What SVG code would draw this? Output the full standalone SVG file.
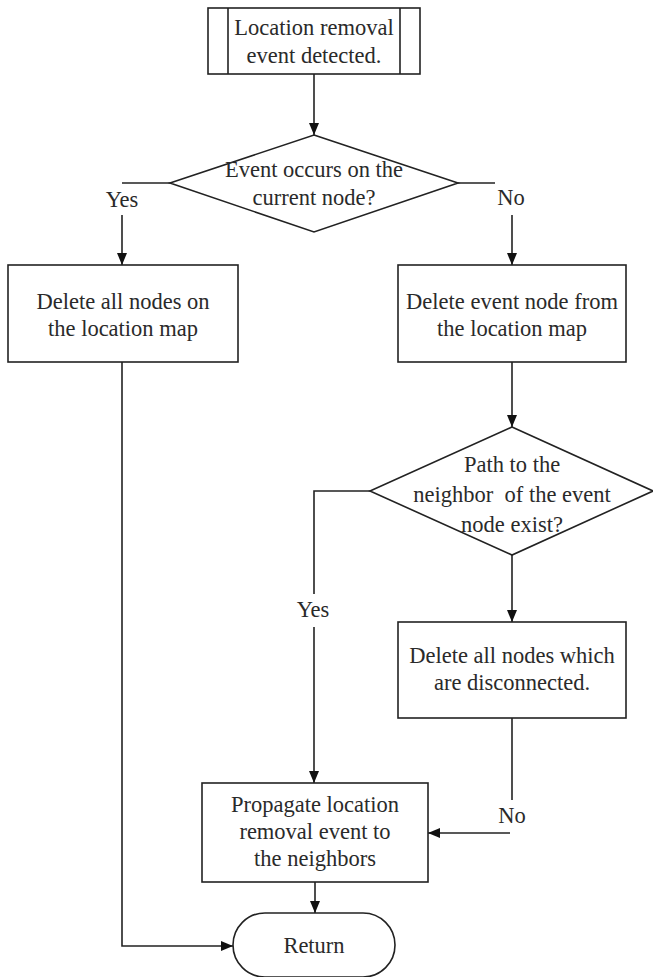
<svg xmlns="http://www.w3.org/2000/svg" width="653" height="977" viewBox="0 0 653 977">
<style>
.s{fill:#fff;stroke:#222;stroke-width:1.6}
.t{font-family:"Liberation Serif","Times New Roman",serif;font-size:22.5px;fill:#2a2a2a;text-anchor:middle}
.c{fill:none;stroke:#222;stroke-width:1.6}
</style>
<defs>
<marker id="ah" markerWidth="12" markerHeight="10" refX="12" refY="5" orient="auto" markerUnits="userSpaceOnUse">
<path d="M0,0 L12,5 L0,10 Z" fill="#111"/>
</marker>
</defs>
<rect width="653" height="977" fill="#fff"/>
<g id="connectors">
<path class="c" d="M314,74 V135" marker-end="url(#ah)"/>
<path class="c" d="M170,183 H122"/>
<path class="c" d="M122,215 V265" marker-end="url(#ah)"/>
<path class="c" d="M458,183 H495"/>
<path class="c" d="M512,215 V265" marker-end="url(#ah)"/>
<path class="c" d="M512,362 V427" marker-end="url(#ah)"/>
<path class="c" d="M370,491 H314 V594"/>
<path class="c" d="M314,627 V783" marker-end="url(#ah)"/>
<path class="c" d="M512,555 V622" marker-end="url(#ah)"/>
<path class="c" d="M512,718 V800"/>
<path class="c" d="M510,833 H428" marker-end="url(#ah)"/>
<path class="c" d="M315,882 V913" marker-end="url(#ah)"/>
<path class="c" d="M122,362 V946 H233" marker-end="url(#ah)"/>
</g>
<g id="start">
<rect class="s" x="208" y="8" width="212" height="66"/>
<path class="c" d="M228,8 V74 M400,8 V74"/>
<text class="t" x="314" y="35">Location removal</text>
<text class="t" x="314" y="63">event detected.</text>
</g>
<g id="decision1">
<polygon class="s" points="314,135 458,183 314,232 170,183"/>
<text class="t" x="314" y="177">Event occurs on the</text>
<text class="t" x="314" y="205">current node?</text>
</g>
<g id="label-yes1"><text class="t" x="122" y="207">Yes</text></g>
<g id="label-no1"><text class="t" x="511" y="205">No</text></g>
<g id="delete-all">
<rect class="s" x="8" y="265" width="230" height="97"/>
<text class="t" x="123" y="309">Delete all nodes on</text>
<text class="t" x="123" y="336">the location map</text>
</g>
<g id="delete-event">
<rect class="s" x="398" y="265" width="228" height="97"/>
<text class="t" x="512" y="309">Delete event node from</text>
<text class="t" x="512" y="336">the location map</text>
</g>
<g id="decision2">
<polygon class="s" points="512,427 653,491 512,555 370,491"/>
<text class="t" x="512" y="472">Path to the</text>
<text class="t" x="512" y="502" xml:space="preserve">neighbor  of the event</text>
<text class="t" x="512" y="532">node exist?</text>
</g>
<g id="label-yes2"><text class="t" x="313" y="617">Yes</text></g>
<g id="delete-disconnected">
<rect class="s" x="398" y="622" width="228" height="96"/>
<text class="t" x="512" y="663">Delete all nodes which</text>
<text class="t" x="512" y="690">are disconnected.</text>
</g>
<g id="label-no2"><text class="t" x="512" y="823">No</text></g>
<g id="propagate">
<rect class="s" x="202" y="783" width="226" height="99"/>
<text class="t" x="315" y="812">Propagate location</text>
<text class="t" x="315" y="839">removal event to</text>
<text class="t" x="315" y="866">the neighbors</text>
</g>
<g id="return">
<rect class="s" x="233" y="913" width="162" height="64" rx="32" ry="32"/>
<text class="t" x="314" y="953">Return</text>
</g>
</svg>
